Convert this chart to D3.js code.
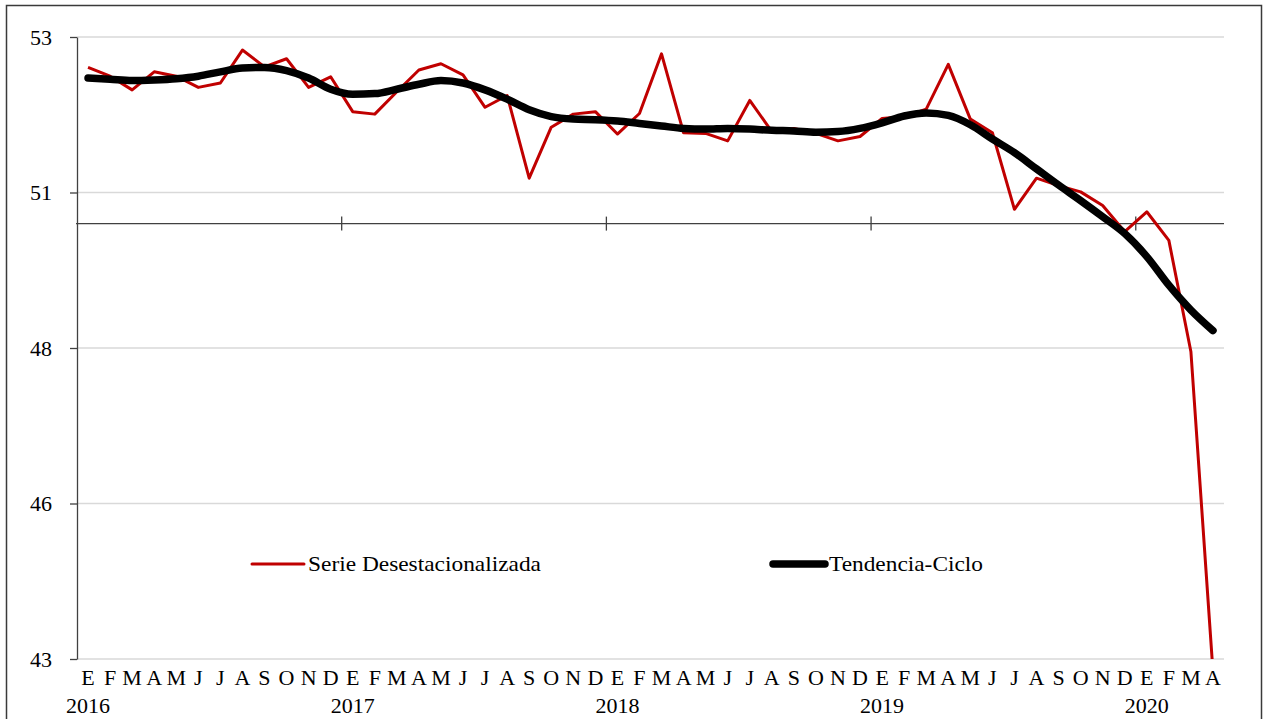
<!DOCTYPE html>
<html>
<head>
<meta charset="utf-8">
<script src="https://cdn.jsdelivr.net/npm/d3@7"></script>
<style>
  body { margin: 0; background: #fff; }
  svg { display: block; }
  text { font-family: "Liberation Serif", "Times New Roman", serif; fill: #000; }
</style>
</head>
<body>
<script>
// months of the series, enero 2016 - abril 2020
var years = ["2016", "2017", "2018", "2019", "2020"];
var monthLetters = ["E", "F", "M", "A", "M", "J", "J", "A", "S", "O", "N", "D"];

// serie desestacionalizada
var serieDes = [
  52.51, 52.37, 52.15, 52.44, 52.37, 52.19, 52.26, 52.79, 52.52, 52.65, 52.19, 52.36,
  51.80, 51.76, 52.12, 52.47, 52.57, 52.39, 51.87, 52.06, 50.73, 51.55, 51.76, 51.80,
  51.44, 51.77, 52.73, 51.46, 51.45, 51.33, 51.98, 51.48, 51.53, 51.45, 51.33, 51.40,
  51.69, 51.72, 51.84, 52.56, 51.68, 51.46, 50.23, 50.73, 50.61, 50.51, 50.29, 49.87,
  50.19, 49.73, 47.94, 42.8
];

// tendencia-ciclo
var tendencia = [
  52.34, 52.32, 52.30, 52.31, 52.33, 52.37, 52.44, 52.50, 52.51, 52.46, 52.34, 52.16,
  52.08, 52.09, 52.16, 52.24, 52.30, 52.26, 52.15, 52.00, 51.83, 51.72, 51.68, 51.67,
  51.65, 51.61, 51.57, 51.53, 51.52, 51.53, 51.52, 51.50, 51.49, 51.47, 51.48, 51.53,
  51.62, 51.73, 51.78, 51.74, 51.59, 51.36, 51.14, 50.88, 50.62, 50.37, 50.11, 49.84,
  49.47, 49.01, 48.61, 48.28
];

var yTicks = [43, 45.5, 48, 50.5, 53];

var labels = serieDes.map(function(d, i) {
  return { key: i, month: monthLetters[i % 12], year: years[Math.floor(i / 12)] };
});

var W = 1265, H = 719;
var plot = {left: 77, right: 1224, top: 37, bottom: 659};
var fontSize = "22px";

var svg = d3.select("body").append("svg")
    .attr("width", W)
    .attr("height", H);

// outer frame
svg.append("rect")
    .attr("x", 6.5).attr("y", 5.5)
    .attr("width", 1255).attr("height", 730)
    .attr("fill", "none")
    .attr("stroke", "#3a3a3a")
    .attr("stroke-width", 1.5);

var x = d3.scaleBand()
    .domain(labels.map(function(d) { return d.key; }))
    .range([plot.left, plot.right]);
var y = d3.scaleLinear()
    .domain([43, 53])
    .range([plot.bottom, plot.top]);

function cx(i) { return x(i) + x.bandwidth() / 2; }

// grid lines
svg.append("g")
    .selectAll("line")
    .data(yTicks)
    .enter().append("line")
    .attr("x1", plot.left).attr("x2", plot.right)
    .attr("y1", function(d) { return y(d); })
    .attr("y2", function(d) { return y(d); })
    .attr("stroke", "#d9d9d9")
    .attr("stroke-width", 1.3);

// y axis
var yAxis = svg.append("g")
    .attr("transform", "translate(" + plot.left + ",0)")
    .call(d3.axisLeft(y).tickValues(yTicks).tickFormat(d3.format(".0f")).tickSize(7).tickSizeOuter(0));
yAxis.select(".domain").attr("stroke", "#404040").attr("stroke-width", 1.3);
yAxis.selectAll(".tick line").attr("stroke", "#404040").attr("stroke-width", 1.3);
yAxis.selectAll(".tick text")
    .attr("x", -25)
    .style("font-size", fontSize)
    .style("font-family", "Liberation Serif, serif")
    .attr("fill", "#000");

// horizontal axis crossing at 50
var y0 = y(50);
svg.append("line")
    .attr("x1", plot.left - 1).attr("x2", plot.right)
    .attr("y1", y0).attr("y2", y0)
    .attr("stroke", "#404040")
    .attr("stroke-width", 1.3);

// year separators: between december and january
var yearStarts = labels.filter(function(d) { return d.key > 0 && d.key % 12 === 0; });
svg.append("g")
    .selectAll("line")
    .data(yearStarts)
    .enter().append("line")
    .attr("x1", function(d) { return x(d.key); })
    .attr("x2", function(d) { return x(d.key); })
    .attr("y1", y0 - 7).attr("y2", y0 + 7)
    .attr("stroke", "#404040")
    .attr("stroke-width", 1.3);

// month letters
svg.append("g")
    .selectAll("text")
    .data(labels)
    .enter().append("text")
    .attr("x", function(d) { return cx(d.key); })
    .attr("y", 685)
    .attr("text-anchor", "middle")
    .style("font-size", fontSize)
    .text(function(d) { return d.month; });

// years under january
svg.append("g")
    .selectAll("text")
    .data(labels.filter(function(d) { return d.key % 12 === 0; }))
    .enter().append("text")
    .attr("x", function(d) { return cx(d.key); })
    .attr("y", 713)
    .attr("text-anchor", "middle")
    .style("font-size", fontSize)
    .text(function(d) { return d.year; });

// clip to plot area
svg.append("clipPath")
    .attr("id", "plotclip")
    .append("rect")
    .attr("x", plot.left).attr("y", plot.top)
    .attr("width", plot.right - plot.left)
    .attr("height", plot.bottom - plot.top);

var lineDes = d3.line()
    .x(function(d, i) { return cx(i); })
    .y(function(d) { return y(d); });

var lineTend = d3.line()
    .x(function(d, i) { return cx(i); })
    .y(function(d) { return y(d); })
    .curve(d3.curveMonotoneX);

svg.append("path")
    .datum(serieDes)
    .attr("clip-path", "url(#plotclip)")
    .attr("fill", "none")
    .attr("stroke", "#c00000")
    .attr("stroke-width", 3)
    .attr("stroke-linejoin", "round")
    .attr("d", lineDes);

svg.append("path")
    .datum(tendencia)
    .attr("fill", "none")
    .attr("stroke", "#000")
    .attr("stroke-width", 7.5)
    .attr("stroke-linejoin", "round")
    .attr("stroke-linecap", "round")
    .attr("d", lineTend);

// legend
var legend = [
  {name: "Serie Desestacionalizada", color: "#c00000", width: 3, x: 252, len: 233},
  {name: "Tendencia-Ciclo", color: "#000", width: 7.5, x: 773, len: 154}
];
var lg = svg.append("g").selectAll("g")
    .data(legend)
    .enter().append("g")
    .attr("transform", function(d) { return "translate(" + d.x + ",564)"; });
lg.append("line")
    .attr("x1", 0).attr("x2", 52)
    .attr("stroke", function(d) { return d.color; })
    .attr("stroke-width", function(d) { return d.width; })
    .attr("stroke-linecap", "round");
lg.append("text")
    .attr("x", 56)
    .attr("y", 7)
    .attr("textLength", function(d) { return d.len; })
    .attr("lengthAdjust", "spacingAndGlyphs")
    .style("font-size", fontSize)
    .text(function(d) { return d.name; });
</script>
</body>
</html>
